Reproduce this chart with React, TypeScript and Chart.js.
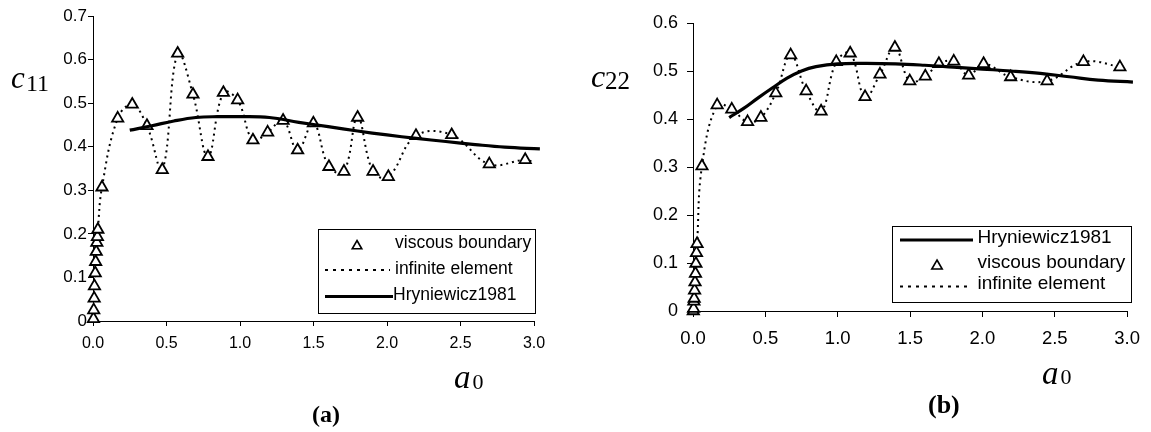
import React, { useEffect, useRef } from "react";
import { Chart, registerables } from "chart.js";
Chart.register(...registerables);

// ---------- data: chart (a) c11 ----------
const vb11X = [0.003, 0.005, 0.008, 0.010, 0.015, 0.018, 0.022, 0.026, 0.030, 0.033,
  0.061, 0.168, 0.267, 0.367, 0.471, 0.576, 0.680, 0.782, 0.887, 0.984, 1.088, 1.188,
  1.293, 1.392, 1.499, 1.605, 1.707, 1.800, 1.905, 2.009, 2.197, 2.440, 2.696, 2.940];
const vb11Y = [0.005, 0.025, 0.052, 0.080, 0.110, 0.136, 0.159, 0.180, 0.193, 0.210,
  0.307, 0.465, 0.497, 0.448, 0.347, 0.614, 0.520, 0.377, 0.524, 0.507, 0.415, 0.433,
  0.460, 0.392, 0.454, 0.354, 0.343, 0.467, 0.343, 0.331, 0.425, 0.427, 0.360, 0.370];
const ie11X = [...vb11X, 3.0];
const ie11Y = [...vb11Y, 0.364];
const hr11X = [0.25, 0.4, 0.55, 0.7, 0.85, 1.0, 1.2, 1.4, 1.6, 1.8, 2.0, 2.2, 2.4, 2.6, 2.8, 3.04];
const hr11Y = [0.438, 0.448, 0.459, 0.467, 0.469, 0.469, 0.467, 0.456, 0.446, 0.436, 0.427, 0.419, 0.412, 0.405, 0.399, 0.395];

// ---------- data: chart (b) c22 ----------
const vb22X = [0.002, 0.004, 0.006, 0.008, 0.011, 0.014, 0.017, 0.020, 0.024, 0.028,
  0.062, 0.167, 0.268, 0.377, 0.469, 0.572, 0.675, 0.782, 0.885, 0.990, 1.086, 1.189,
  1.292, 1.395, 1.498, 1.605, 1.699, 1.802, 1.905, 2.008, 2.195, 2.447, 2.698, 2.950];
const vb22Y = [0.0, 0.005, 0.020, 0.026, 0.043, 0.060, 0.078, 0.099, 0.121, 0.140,
  0.302, 0.429, 0.420, 0.394, 0.403, 0.454, 0.533, 0.458, 0.416, 0.519, 0.537, 0.446,
  0.493, 0.549, 0.479, 0.489, 0.515, 0.520, 0.491, 0.515, 0.4875, 0.479, 0.519, 0.508];
const ie22X = [...vb22X, 3.0];
const ie22Y = [...vb22Y, 0.500];
const hr22X = [0.25, 0.35, 0.45, 0.55, 0.65, 0.75, 0.85, 1.0, 1.2, 1.4, 1.6, 1.8, 2.0, 2.2, 2.4, 2.6, 2.8, 3.04];
const hr22Y = [0.403, 0.422, 0.444, 0.465, 0.485, 0.500, 0.509, 0.515, 0.516, 0.515, 0.512, 0.508, 0.504, 0.500, 0.495, 0.488, 0.481, 0.477];

// ---------- labels ----------
const xTickMax = 3.0;
const c11Max = 0.7;
const c22Max = 0.6;
const legendTexts = { vb: "viscous boundary", ie: "infinite element", hr: "Hryniewicz1981" };

const SANS = "'Liberation Sans', Arial, sans-serif";
const SERIF = "'Liberation Serif', 'Times New Roman', serif";

const pts = (xs: number[], ys: number[]) => xs.map((x, i) => ({ x, y: ys[i] }));

type Item = { kind: "tri" | "dot" | "solid"; text: string; sx0: number; sx1: number; sy: number; tx: number; ty: number; r?: number };
type Label = { parts: { t: string; font: string; x: number; y: number }[] };
type Overlay = { box: { x: number; y: number; w: number; h: number }; font: string; items: Item[]; labels: Label[] };

function drawTri(ctx: CanvasRenderingContext2D, x: number, y: number, r: number) {
  let a = 0;
  ctx.beginPath();
  ctx.moveTo(x + Math.sin(a) * r, y - Math.cos(a) * r);
  a += (2 * Math.PI) / 3;
  ctx.lineTo(x + Math.sin(a) * r, y - Math.cos(a) * r);
  a += (2 * Math.PI) / 3;
  ctx.lineTo(x + Math.sin(a) * r, y - Math.cos(a) * r);
  ctx.closePath();
  ctx.fillStyle = "#fff";
  ctx.fill();
  ctx.stroke();
}

function makeOverlay(cfg: Overlay) {
  return {
    id: "overlay",
    afterDraw(chart: any) {
      const ctx: CanvasRenderingContext2D = chart.ctx;
      ctx.save();
      const b = cfg.box;
      ctx.fillStyle = "#fff";
      ctx.fillRect(b.x, b.y, b.w, b.h);
      ctx.strokeStyle = "#000";
      ctx.lineWidth = 1;
      ctx.strokeRect(b.x + 0.5, b.y + 0.5, b.w, b.h);
      ctx.font = cfg.font;
      ctx.textBaseline = "middle";
      ctx.textAlign = "left";
      for (const it of cfg.items) {
        ctx.strokeStyle = "#000";
        if (it.kind === "tri") {
          ctx.lineWidth = 1.6;
          ctx.setLineDash([]);
          drawTri(ctx, (it.sx0 + it.sx1) / 2, it.sy, it.r || 5);
        } else {
          ctx.lineWidth = it.kind === "solid" ? 3 : 2;
          ctx.setLineDash(it.kind === "dot" ? [3, 5] : []);
          ctx.beginPath();
          ctx.moveTo(it.sx0, it.sy);
          ctx.lineTo(it.sx1, it.sy);
          ctx.stroke();
          ctx.setLineDash([]);
        }
        ctx.fillStyle = "#000";
        ctx.fillText(it.text, it.tx, it.ty);
      }
      ctx.textBaseline = "alphabetic";
      for (const l of cfg.labels) {
        for (const p of l.parts) {
          ctx.font = p.font;
          ctx.fillStyle = "#000";
          ctx.fillText(p.t, p.x, p.y);
        }
      }
      ctx.restore();
    },
  };
}

type Spec = {
  vbX: number[]; vbY: number[]; ieX: number[]; ieY: number[]; hrX: number[]; hrY: number[];
  yMax: number; yWidth: number; xHeight: number;
  padding: { left: number; right: number; top: number; bottom: number };
  yTickFont: number; xTickFont: number; yTickPad: number; xTickPad: number; yTickLen: number; xTickLen: number;
  overlay: Overlay;
};

function buildChart(canvas: HTMLCanvasElement, s: Spec) {
  return new Chart(canvas, {
    type: "line",
    data: {
      datasets: [
        {
          label: legendTexts.hr,
          data: pts(s.hrX, s.hrY),
          borderColor: "#000",
          borderWidth: 3.2,
          pointRadius: 0,
          tension: 0.4,
          fill: false,
          order: 0,
          clip: false as any,
        },
        {
          label: legendTexts.vb,
          data: pts(s.vbX, s.vbY),
          showLine: false,
          pointStyle: "triangle",
          pointRadius: 6.5,
          pointBorderWidth: 1.8,
          pointBorderColor: "#000",
          pointBackgroundColor: "#fff",
          borderColor: "#000",
          backgroundColor: "#fff",
          order: 1,
          clip: false as any,
        },
        {
          label: legendTexts.ie,
          data: pts(s.ieX, s.ieY),
          borderColor: "#000",
          borderWidth: 2,
          borderDash: [2, 4],
          pointRadius: 0,
          tension: 0.4,
          fill: false,
          order: 2,
        },
      ],
    },
    options: {
      animation: false,
      responsive: false,
      events: [],
      layout: { padding: s.padding },
      plugins: { legend: { display: false }, tooltip: { enabled: false } },
      scales: {
        x: {
          type: "linear",
          min: 0,
          max: xTickMax,
          ticks: {
            stepSize: 0.5,
            color: "#000",
            padding: s.xTickPad,
            font: { family: SANS, size: s.xTickFont },
            callback: (v: any) => Number(v).toFixed(1),
          },
          grid: { drawOnChartArea: false, drawTicks: true, tickLength: s.xTickLen, color: "#000" },
          border: { display: true, color: "#000", width: 1 },
          afterFit: (sc: any) => { sc.height = s.xHeight; },
        },
        y: {
          type: "linear",
          min: 0,
          max: s.yMax,
          ticks: {
            stepSize: 0.1,
            color: "#000",
            padding: s.yTickPad,
            font: { family: SANS, size: s.yTickFont },
            callback: (v: any) => (Math.abs(Number(v)) < 1e-9 ? "0" : Number(v).toFixed(1)),
          },
          grid: { drawOnChartArea: false, drawTicks: true, tickLength: s.yTickLen, color: "#000" },
          border: { display: true, color: "#000", width: 1 },
          afterFit: (sc: any) => { sc.width = s.yWidth; },
        },
      },
    } as any,
    plugins: [makeOverlay(s.overlay)],
  });
}

const specA: Spec = {
  vbX: vb11X, vbY: vb11Y, ieX: ie11X, ieY: ie11Y, hrX: hr11X, hrY: hr11Y,
  yMax: c11Max, yWidth: 93, xHeight: 60,
  padding: { left: 0, right: 41, top: 16, bottom: 51 },
  yTickFont: 17, xTickFont: 16, yTickPad: 1, xTickPad: 8, yTickLen: 5, xTickLen: 5,
  overlay: {
    box: { x: 318, y: 229, w: 217, h: 84 },
    font: `17.5px ${SANS}`,
    items: [
      { kind: "tri", text: legendTexts.vb, sx0: 347, sx1: 367, sy: 246, tx: 395, ty: 243, r: 5.5 },
      { kind: "dot", text: legendTexts.ie, sx0: 325, sx1: 390, sy: 270, tx: 395, ty: 269 },
      { kind: "solid", text: legendTexts.hr, sx0: 325, sx1: 393, sy: 296.5, tx: 393, ty: 295 },
    ],
    labels: [
      { parts: [
        { t: "c", font: `italic 31px ${SERIF}`, x: 11, y: 88 },
        { t: "11", font: `24px ${SERIF}`, x: 26, y: 90.5 },
      ] },
      { parts: [
        { t: "a", font: `italic 33px ${SERIF}`, x: 454, y: 388 },
        { t: "0", font: `22px ${SERIF}`, x: 472.5, y: 388.5 },
      ] },
      { parts: [{ t: "(a)", font: `bold 24px ${SERIF}`, x: 312, y: 422 }] },
    ],
  },
};

const specB: Spec = {
  vbX: vb22X, vbY: vb22Y, ieX: ie22X, ieY: ie22Y, hrX: hr22X, hrY: hr22Y,
  yMax: c22Max, yWidth: 118, xHeight: 60,
  padding: { left: 0, right: 20, top: 23, bottom: 61 },
  yTickFont: 18, xTickFont: 18.5, yTickPad: 9, xTickPad: 11, yTickLen: 6, xTickLen: 6,
  overlay: {
    box: { x: 317, y: 226, w: 239, h: 76 },
    font: `19px ${SANS}`,
    items: [
      { kind: "solid", text: legendTexts.hr, sx0: 325, sx1: 398, sy: 240, tx: 402.5, ty: 238 },
      { kind: "tri", text: legendTexts.vb, sx0: 352, sx1: 372, sy: 266, tx: 402.5, ty: 262.5, r: 6 },
      { kind: "dot", text: legendTexts.ie, sx0: 325, sx1: 392, sy: 286.5, tx: 402.5, ty: 284 },
    ],
    labels: [
      { parts: [
        { t: "c", font: `italic 32px ${SERIF}`, x: 16, y: 87 },
        { t: "22", font: `25px ${SERIF}`, x: 30, y: 89 },
      ] },
      { parts: [
        { t: "a", font: `italic 33px ${SERIF}`, x: 467, y: 383.5 },
        { t: "0", font: `22px ${SERIF}`, x: 485.5, y: 384 },
      ] },
      { parts: [{ t: "(b)", font: `bold 26px ${SERIF}`, x: 353, y: 412.5 }] },
    ],
  },
};

function Panel({ spec, left, width }: { spec: Spec; left: number; width: number }) {
  const ref = useRef<HTMLCanvasElement | null>(null);
  useEffect(() => {
    if (!ref.current) return;
    const ch = buildChart(ref.current, spec);
    return () => ch.destroy();
  }, [spec]);
  return (
    <canvas
      ref={ref}
      width={width}
      height={432}
      style={{ position: "absolute", left, top: 0, width, height: 432 }}
    />
  );
}

export default function App() {
  return (
    <div style={{ position: "fixed", left: 0, top: 0, width: 1151, height: 432, background: "#fff", overflow: "hidden" }}>
      <Panel spec={specA} left={0} width={575} />
      <Panel spec={specB} left={575} width={576} />
    </div>
  );
}
